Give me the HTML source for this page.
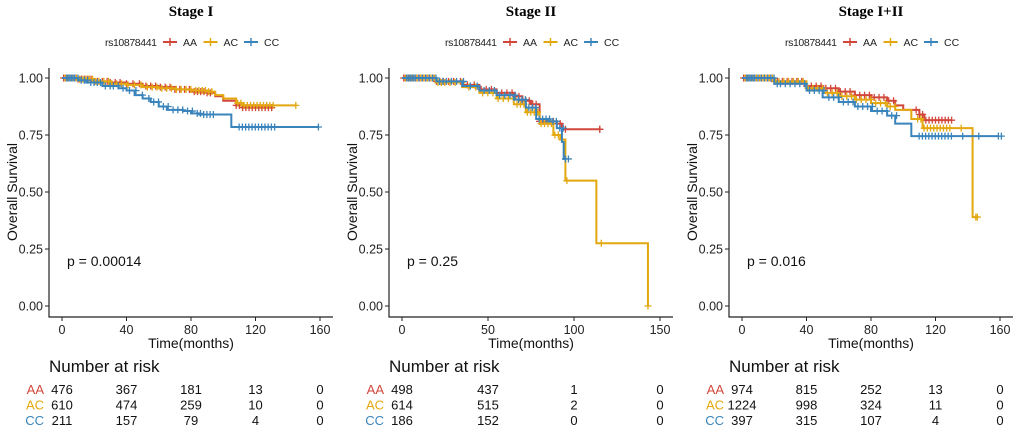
<!DOCTYPE html>
<html><head><meta charset="utf-8"><style>
body{margin:0;background:#fff;width:1020px;height:431px;overflow:hidden}
svg text{font-family:"Liberation Sans",sans-serif}
</style></head><body>
<svg id="c" width="1020" height="431"></svg>
<script>
const titles=["Stage I","Stage II","Stage I+II"];
const pvals=["p = 0.00014","p = 0.25","p = 0.016"];
const xmaxs=[160,150,160];
const xticks=[[0,40,80,120,160],[0,50,100,150],[0,40,80,120,160]];
const groups=["AA","AC","CC"];
const colors=["#D2473B","#E3A80F","#3A84BC"];
const yticks=[0,0.25,0.5,0.75,1];
const p1AA=[[0,1],[10,0.995],[20,0.985],[30,0.98],[40,0.975],[50,0.965],[60,0.96],[70,0.95],[80,0.94],[90,0.935],[95,0.92],[100,0.9],[108,0.88],[112,0.87],[130,0.87]];
const p1AC=[[0,1],[10,0.995],[20,0.985],[30,0.975],[40,0.97],[50,0.96],[60,0.955],[70,0.95],[80,0.945],[90,0.94],[95,0.925],[100,0.91],[108,0.89],[112,0.88],[145,0.88]];
const p1CC=[[0,1],[10,0.99],[15,0.98],[25,0.965],[35,0.955],[40,0.945],[45,0.925],[50,0.91],[55,0.895],[60,0.875],[65,0.86],[75,0.855],[80,0.845],[85,0.84],[105,0.785],[159,0.785]];
const p2AA=[[0,1],[20,0.985],[35,0.97],[45,0.95],[55,0.935],[65,0.92],[70,0.9],[75,0.885],[80,0.81],[90,0.8],[93,0.775],[115,0.775]];
const p2AC=[[0,1],[20,0.98],[35,0.96],[45,0.935],[55,0.91],[65,0.885],[72,0.85],[80,0.8],[88,0.75],[92,0.73],[95,0.55],[113,0.275],[143,0.0],[143,0.0]];
const p2CC=[[0,1],[20,0.985],[35,0.965],[45,0.945],[55,0.925],[65,0.905],[72,0.87],[78,0.82],[85,0.81],[90,0.78],[93,0.72],[94,0.645],[95,0.645]];
const p3AA=[[0,1],[20,0.985],[40,0.965],[50,0.955],[60,0.94],[70,0.925],[80,0.915],[90,0.9],[95,0.88],[100,0.86],[110,0.84],[113,0.815],[130,0.815]];
const p3AC=[[0,1],[20,0.985],[40,0.955],[50,0.935],[60,0.92],[70,0.905],[80,0.89],[90,0.875],[95,0.86],[105,0.82],[112,0.78],[143,0.39],[145,0.39]];
const p3CC=[[0,1],[20,0.975],[40,0.945],[50,0.915],[60,0.895],[70,0.875],[80,0.855],[90,0.835],[95,0.8],[105,0.745],[159,0.745]];
const curves=[[p1AA,p1AC,p1CC],[p2AA,p2AC,p2CC],[p3AA,p3AC,p3CC]];
const censor=[[1,2,3,4,5,6,8,10,12,14,16,18,20,22,25,28,30,33,36,40,44,48,52,55,58,61,64,67,70,73,76,79,82,84,86,88,90,92,108,110,112,114,116,118,120,122,124,126,128,130],
[1,2,3,4,5,6,8,10,12,14,16,18,20,22,24,27,30,34,38,42,46,49,52,55,58,61,64,66,68,70,72,74,76,78,80,82,84,86,88,90,92,95,115],
[1,2,3,4,5,6,8,10,12,14,16,18,20,22,25,28,31,34,37,40,43,46,49,52,55,58,61,64,67,70,73,76,79,82,85,88,91,94,108,110,112,114,116,118,120,122,124,126,128,135,145,159]];
const risk=[[[476,367,181,13,0],[610,474,259,10,0],[211,157,79,4,0]],[[498,437,1,0],[614,515,2,0],[186,152,0,0]],[[974,815,252,13,0],[1224,998,324,11,0],[397,315,107,4,0]]];
const svg=document.getElementById('c');
const NS='http://www.w3.org/2000/svg';
function mk(tag,attrs,txt,parent){const e=document.createElementNS(NS,tag);for(const k in attrs)e.setAttribute(k,attrs[k]);if(txt!=null)e.textContent=txt;(parent||svg).appendChild(e);return e;}
function valAt(c,t){let v=c[0][1];for(const p of c){if(p[0]<=t)v=p[1];}return v;}
for(let k=0;k<3;k++){
  const o=k*340;
  const g=mk('g',{});
  
  
  const x0=o+62,x1=o+320,y0=306,y1=78;
  const xs=t=>x0+(x1-x0)*t/xmaxs[k];
  const ys=v=>y0-(y0-y1)*v;
  const tt=mk('text',{x:o+191,y:16,'text-anchor':'middle','font-size':15,'font-weight':'bold',style:'font-family:"Liberation Serif",serif'},titles[k],g);
  
  const lg=mk('g',{},null,g);
  
  mk('text',{x:o+105,y:46,'font-size':10.5,fill:'#222',textLength:52},'rs10878441',lg);
  for(let i=0;i<3;i++){const lx=o+163+i*40.5;
    const le=mk('g',{},null,lg);
    mk('line',{x1:lx,y1:42,x2:lx+14,y2:42,stroke:colors[i],'stroke-width':2},null,le);
    mk('line',{x1:lx+7,y1:38,x2:lx+7,y2:46,stroke:colors[i],'stroke-width':1.5},null,le);
    mk('text',{x:lx+20,y:46,'font-size':10.5,fill:'#222'},groups[i],le);}
  const ax=mk('path',{d:`M${o+49},68 V317 H${o+333}`,fill:'none',stroke:'#222','stroke-width':1.2},null,g);
  
  for(const v of yticks){mk('line',{x1:o+45,x2:o+49,y1:ys(v),y2:ys(v),stroke:'#222'},null,g);
    const t=mk('text',{x:o+43,y:ys(v)+4.5,'text-anchor':'end','font-size':12.5,fill:'#222'},v.toFixed(2),g);
    }
  for(const v of xticks[k]){mk('line',{x1:xs(v),x2:xs(v),y1:317,y2:321,stroke:'#222'},null,g);
    const t=mk('text',{x:xs(v),y:334,'text-anchor':'middle','font-size':12.5,fill:'#222'},v,g);
    }
  const xt=mk('text',{x:o+191,y:348,'text-anchor':'middle','font-size':14,fill:'#111'},'Time(months)',g);
  
  const yt=mk('text',{x:o+17,y:192,'text-anchor':'middle','font-size':14,fill:'#111',transform:`rotate(-90 ${o+17} 192)`},'Overall Survival',g);
  
  const pv=mk('text',{x:o+67,y:266,'font-size':14,fill:'#111'},pvals[k],g);
  
  for(let i=0;i<3;i++){const c=curves[k][i];let d=`M${xs(c[0][0])},${ys(c[0][1])}`;
    for(let j=1;j<c.length;j++){d+=` H${xs(c[j][0])} V${ys(c[j][1])}`;}
    const p=mk('path',{d,fill:'none',stroke:colors[i],'stroke-width':2},null,g);
    
    const tmax=c[c.length-1][0];
    for(const t of censor[k]){if(t>tmax)continue;const cx=xs(t)+i*1.5,cy=ys(valAt(c,t));
      const m=mk('path',{d:`M${cx-3.5},${cy}H${cx+3.5}M${cx},${cy-3.5}V${cy+3.5}`,stroke:colors[i],'stroke-width':1.3},null,g);
      }
    mk('path',{d:`M${xs(tmax)-3.5},${ys(c[c.length-1][1])}h7m-3.5,-3.5v7`,stroke:colors[i],'stroke-width':1.3},null,g);
  }
  const rh=mk('text',{x:o+49,y:372,'font-size':17,fill:'#111'},'Number at risk',g);
  
  for(let i=0;i<3;i++){const ry=394+i*15.5;
    const lb=mk('text',{x:o+44,y:ry,'text-anchor':'end','font-size':13,fill:colors[i]},groups[i],g);
    
    risk[k][i].forEach((n,j)=>{const t=mk('text',{x:xs(xticks[k][j]),y:ry,'text-anchor':'middle','font-size':13,fill:'#111'},n,g);
      });}
}
</script>
</body></html>
